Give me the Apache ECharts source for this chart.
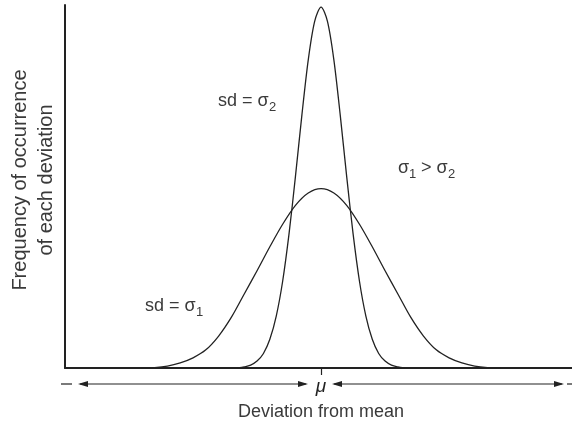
<!DOCTYPE html>
<html>
<head>
<meta charset="utf-8">
<script src="https://cdn.jsdelivr.net/npm/echarts@6/dist/echarts.min.js"></script>
<style>
  html, body { margin: 0; padding: 0; background: #fff; }
  #chart { width: 572px; height: 425px; }
</style>
</head>
<body>
<div id="chart"></div>
<script>
// values: x in deviation units (mu = 0), y as % of axis height
const narrowX = [-3.25, -3, -2.75, -2.5, -2.25, -2, -1.75, -1.5, -1.25, -1, -0.75, -0.5, -0.25, 0,
  0.25, 0.5, 0.75, 1, 1.25, 1.5, 1.75, 2, 2.25, 2.5, 2.75, 3, 3.25];
const narrowY = [0, 0.3, 0.8, 1.9, 4.0, 7.9, 14.3, 23.9, 37.0, 52.8, 69.6, 84.9, 95.5, 99.4,
  95.5, 84.9, 69.6, 52.8, 37.0, 23.9, 14.3, 7.9, 4.0, 1.9, 0.8, 0.3, 0];

const wideX = [-7, -6.5, -6, -5.5, -5, -4.5, -4, -3.5, -3, -2.5, -2, -1.5, -1, -0.5, 0,
  0.5, 1, 1.5, 2, 2.5, 3, 3.5, 4, 4.5, 5, 5.5, 6, 6.5, 7];
const wideY = [0, 0.1, 0.5, 1.4, 2.8, 5.0, 8.8, 14.0, 20.4, 26.8, 33.4, 39.6, 44.8, 48.2, 49.4,
  48.2, 44.8, 39.6, 33.4, 26.8, 20.4, 14.0, 8.8, 5.0, 2.8, 1.4, 0.5, 0.1, 0];

const xLabel = 'Deviation from mean';
const yLabel = ['Frequency of occurrence', 'of each deviation'];

const chart = echarts.init(document.getElementById('chart'));

const ink = '#222';
const txt = '#3a3a3a';
const font = 'Liberation Sans, Arial, sans-serif';

function pair(xs, ys) {
  return xs.map((x, i) => [x, ys[i]]);
}

function text(x, y, s, size) {
  return {
    type: 'text', x: x, y: y,
    style: { text: s, fontSize: size, fontFamily: font, fill: txt, align: 'left', verticalAlign: 'middle' }
  };
}

function vtext(x, y, s) {
  return {
    type: 'text', x: x, y: y, rotation: Math.PI / 2,
    style: { text: s, fontSize: 20, fontFamily: font, fill: txt, align: 'center', verticalAlign: 'middle' }
  };
}

function arrowHead(x, y, dir) {
  // dir = -1 points left, 1 points right
  return {
    type: 'polygon',
    shape: { points: [[x, y], [x - dir * 10, y - 3], [x - dir * 10, y + 3]] },
    style: { fill: ink }
  };
}

const ay = 384;

chart.setOption({
  animation: false,
  grid: { left: 65, right: 0, top: 5, bottom: 57 },
  xAxis: {
    type: 'value', min: -10, max: 9.8,
    axisLine: { onZero: false, lineStyle: { color: ink, width: 2 } },
    axisTick: { show: true, customValues: [0], length: 7, lineStyle: { color: ink, width: 1.2 } },
    axisLabel: { show: false },
    splitLine: { show: false }
  },
  yAxis: {
    type: 'value', min: 0, max: 100,
    axisLine: { show: true, onZero: false, lineStyle: { color: ink, width: 2 } },
    axisTick: { show: false },
    axisLabel: { show: false },
    splitLine: { show: false }
  },
  series: [
    {
      name: 'sd = σ2', type: 'line', data: pair(narrowX, narrowY),
      showSymbol: false, smooth: 0.3,
      lineStyle: { color: ink, width: 1.3 }
    },
    {
      name: 'sd = σ1', type: 'line', data: pair(wideX, wideY),
      showSymbol: false, smooth: 0.3,
      lineStyle: { color: ink, width: 1.3 }
    }
  ],
  graphic: [
    // y axis title, two rotated lines
    vtext(20, 180, yLabel[0]),
    vtext(46, 180, yLabel[1]),
    // x axis title
    { type: 'text', x: 321, y: 412, style: { text: xLabel, fontSize: 18, fontFamily: font, fill: txt, align: 'center', verticalAlign: 'middle' } },
    // curve labels
    text(218, 101, 'sd = σ', 18),
    text(269, 107, '2', 13),
    text(145, 306, 'sd = σ', 18),
    text(196, 312, '1', 13),
    text(398, 168, 'σ', 18),
    text(409, 174, '1', 13),
    text(421, 168, '> σ', 18),
    text(448, 174, '2', 13),
    // mean marker and arrows
    { type: 'text', x: 321, y: 387, style: { text: 'μ', fontSize: 19, fontStyle: 'italic', fontFamily: font, fill: ink, align: 'center', verticalAlign: 'middle' } },
    { type: 'line', shape: { x1: 61, y1: ay, x2: 72, y2: ay }, style: { stroke: ink, lineWidth: 1.2 } },
    { type: 'line', shape: { x1: 80, y1: ay, x2: 306, y2: ay }, style: { stroke: ink, lineWidth: 1.2 } },
    arrowHead(78, ay, -1),
    arrowHead(308, ay, 1),
    { type: 'line', shape: { x1: 334, y1: ay, x2: 562, y2: ay }, style: { stroke: ink, lineWidth: 1.2 } },
    arrowHead(332, ay, -1),
    arrowHead(564, ay, 1),
    { type: 'line', shape: { x1: 567, y1: ay, x2: 578, y2: ay }, style: { stroke: ink, lineWidth: 1.2 } }
  ]
});
</script>
</body>
</html>
